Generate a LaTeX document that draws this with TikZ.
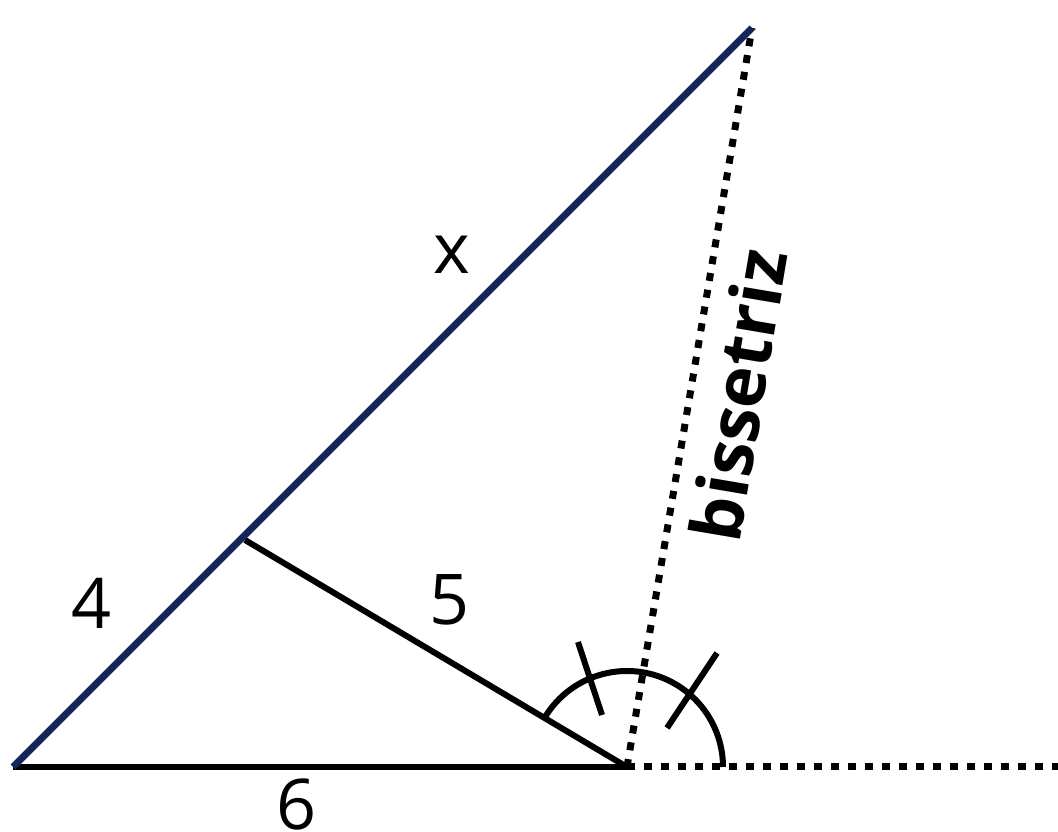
\documentclass[tikz,border=0pt]{standalone}
\usepackage{fontspec}
\setmainfont{Open Sans}
\usetikzlibrary{calc}
\definecolor{navyline}{RGB}{17,38,89}
\begin{document}
\begin{tikzpicture}[x=1pt,y=1pt,
  blackline/.style={line width=6pt, black},
  navy/.style={line width=7pt, navyline},
  dotline/.style={line width=7pt, black, dash pattern=on 8pt off 9pt},
  lbl/.style={font=\fontsize{70}{80}\selectfont, inner sep=0pt}]
\useasboundingbox (0,0) rectangle (1058,832);
\coordinate (A) at (13,65);
\coordinate (B) at (245,292);
\coordinate (T) at (752,804);
\coordinate (C) at (627,65);
\coordinate (E) at (1058,65);
% dotted lines
\draw[dotline] (C) -- (T);
\draw[dotline] (C) -- (E);
% sides
\draw[blackline] (A) -- (C);
\draw[blackline] (B) -- (C);
\draw[navy] (A) -- (T);
% angle arc and ticks
\draw[blackline] ($(C)+(149.3:96)$) arc[start angle=149.3, end angle=0, radius=96];
\draw[blackline] ($(C)+(-49,125)$) -- ($(C)+(-25,52)$);
\draw[blackline] ($(C)+(90,114)$) -- ($(C)+(40,39)$);
% labels
\node[lbl] (lx) at (452,577) {x};
\node[lbl] (l4) at (92,229) {4};
\node[lbl] (l5) at (450,232) {5};
\node[lbl] (l6) at (297,27) {6};
\node[lbl, font=\fontsize{70}{80}\selectfont\bfseries, rotate=80.4] (lb) at (738,437) {bissetriz};
\end{tikzpicture}
\end{document}
